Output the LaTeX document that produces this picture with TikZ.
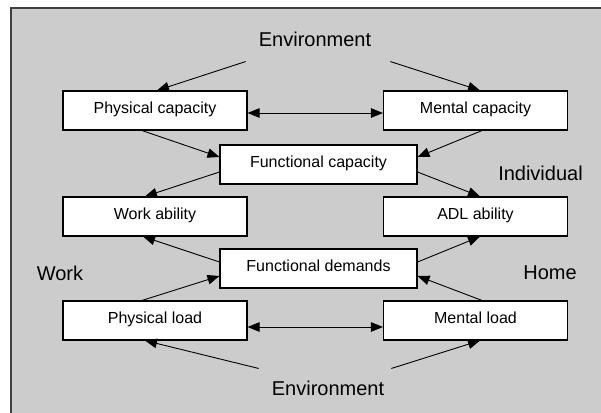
\documentclass[tikz,border=0pt]{standalone}
\usepackage{fontspec}
\setmainfont{Liberation Sans}
\usepackage{tikz}
\usetikzlibrary{arrows.meta}

\begin{document}
\begin{tikzpicture}[x=1pt,y=-1pt]
\tikzstyle{box}=[rectangle, draw=black, fill=white, line width=1.1pt, minimum width=184pt,
    minimum height=39pt, inner sep=0pt, text height=11.6pt, text depth=6pt,
    font=\fontsize{16}{19}\selectfont]
\tikzstyle{label}=[inner sep=0pt, font=\fontsize{20}{24}\selectfont]
\tikzstyle{arr}=[line width=0.9pt, -{Triangle[length=12pt,width=9.5pt]}]
\tikzstyle{darr}=[line width=0.9pt, {Triangle[length=12pt,width=9.5pt]}-{Triangle[length=12pt,width=9.5pt]}]

\useasboundingbox (0,0) rectangle (601,412);
\draw[draw=black!75, line width=2pt, fill=black!20] (11,8) rectangle (640,450);

    \node[box] (pcap) at (155,110.5) {Physical capacity};
    \node[box] (mcap) at (475.5,110.5) {Mental capacity};
    \node[box, minimum width=197pt] (fcap) at (318.5,164.5) {Functional capacity};

    \node[box] (work) at (155,216.5) {Work ability};
    \node[box] (adl) at (475.5,216.5) {ADL ability};
    \node[box, minimum width=197pt] (fdem) at (318.5,268.5) {Functional demands};

    \node[box] (pload) at (155,320.5) {Physical load};
    \node[box] (mload) at (475.5,320.5) {Mental load};

\node[label] (envtop) at (315,39) {Environment};
\node[label] (envbot) at (328,388) {Environment};
\node[label] (indiv) at (540.5,173) {Individual};
\node[label] (worklbl) at (60,273) {Work};
\node[label] (home) at (550,273) {Home};

\coordinate (envtopL) at ([shift={(-13,15)}]envtop.south west);
\coordinate (envtopR) at ([shift={(19,15)}]envtop.south east);
\coordinate (envbotL) at ([shift={(-13,-12)}]envbot.north west);
\coordinate (envbotR) at ([shift={(7,-12)}]envbot.north east);

% environment to capacities
\draw[arr] (envtopL) -- ([shift={(2,0)}]pcap.north);
\draw[arr] (envtopR) -- ([shift={(4.5,0)}]mcap.north);
\draw[darr] ([shift={(0,2.5)}]pcap.east) -- ([shift={(0,2.5)}]mcap.west);

\draw[arr] ([shift={(-13,0)}]pcap.south) -- ([shift={(0,-7.5)}]fcap.west);
\draw[arr] ([shift={(6.5,0)}]mcap.south) -- ([shift={(0,-7.5)}]fcap.east);
\draw[arr] ([shift={(0,7.5)}]fcap.west) -- ([shift={(-10,0)}]work.north);
\draw[arr] ([shift={(0,7.5)}]fcap.east) -- ([shift={(4.5,0)}]adl.north);

% demands side
\draw[arr] ([shift={(0,-6.5)}]fdem.west) -- ([shift={(-12,0)}]work.south);
\draw[arr] ([shift={(0,-6.5)}]fdem.east) -- ([shift={(4.5,0)}]adl.south);
\draw[arr] ([shift={(-13,0)}]pload.north) -- ([shift={(0,7.5)}]fdem.west);
\draw[arr] ([shift={(6.5,0)}]mload.north) -- ([shift={(0,7.5)}]fdem.east);

\draw[darr] ([shift={(0,6.5)}]pload.east) -- ([shift={(0,6.5)}]mload.west);
\draw[arr] (envbotL) -- ([shift={(-10,0)}]pload.south);
\draw[arr] (envbotR) -- ([shift={(4.5,0)}]mload.south);
\end{tikzpicture}
\end{document}
